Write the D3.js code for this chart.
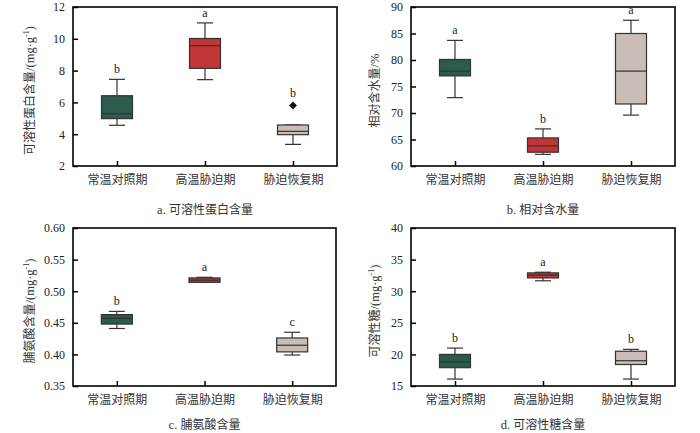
<!DOCTYPE html>
<html><head><meta charset="utf-8">
<script src="https://cdn.jsdelivr.net/npm/d3@7"></script>
<style>body{margin:0;background:#fff}svg{display:block}</style>
</head><body><svg id="c" width="700" height="433"></svg>
<script>
const categories = ["常温对照期", "高温胁迫期", "胁迫恢复期"];
const colors = ["#2d5a4f", "#c23536", "#c9bdb8"];

// [min, q1, median, q3, max] per category
const proteinStats = [[4.56, 4.98, 5.29, 6.42, 7.45], [7.43, 8.14, 9.57, 10.02, 11.0], [3.36, 3.97, 4.18, 4.58, 4.58]];
const proteinOutliers = [[], [], [5.8]];
const proteinLetters = ["b", "a", "b"];
const proteinTicks = [2, 4, 6, 8, 10, 12];

const waterStats = [[72.9, 77.0, 77.9, 80.1, 83.7], [62.2, 62.6, 63.8, 65.3, 67.0], [69.6, 71.7, 77.9, 85.0, 87.5]];
const waterOutliers = [[], [], []];
const waterLetters = ["a", "b", "a"];
const waterTicks = [60, 65, 70, 75, 80, 85, 90];

const prolineStats = [[0.441, 0.448, 0.457, 0.463, 0.468], [0.514, 0.514, 0.5175, 0.521, 0.522], [0.399, 0.404, 0.4145, 0.426, 0.435]];
const prolineOutliers = [[], [], []];
const prolineLetters = ["b", "a", "c"];
const prolineTicks = [0.35, 0.40, 0.45, 0.50, 0.55, 0.60];

const sugarStats = [[16.1, 17.9, 18.8, 20.0, 21.0], [31.65, 32.1, 32.55, 32.9, 33.0], [16.1, 18.4, 19.0, 20.5, 20.8]];
const sugarOutliers = [[], [], []];
const sugarLetters = ["b", "a", "b"];
const sugarTicks = [15, 20, 25, 30, 35, 40];

const panels = [
  {stats: proteinStats, out: proteinOutliers, letters: proteinLetters, ticks: proteinTicks, fmt: d3.format("d"),
   title: "可溶性蛋白含量", unit: "/(mg·g", sup: "-1", tail: ")", capL: "a.", capT: "可溶性蛋白含量",
   x0: 73, x1: 337, y0: 7, y1: 166, tx: 30, cy: 214},
  {stats: waterStats, out: waterOutliers, letters: waterLetters, ticks: waterTicks, fmt: d3.format("d"),
   title: "相对含水量", unit: "/%", sup: "", tail: "", capL: "b.", capT: "相对含水量",
   x0: 411, x1: 675, y0: 7, y1: 166, tx: 375, cy: 214},
  {stats: prolineStats, out: prolineOutliers, letters: prolineLetters, ticks: prolineTicks, fmt: d3.format(".2f"),
   title: "脯氨酸含量", unit: "/(mg·g", sup: "-1", tail: ")", capL: "c.", capT: "脯氨酸含量",
   x0: 73, x1: 336, y0: 228, y1: 386, tx: 30, cy: 429},
  {stats: sugarStats, out: sugarOutliers, letters: sugarLetters, ticks: sugarTicks, fmt: d3.format("d"),
   title: "可溶性糖", unit: "/(mg·g", sup: "-1", tail: ")", capL: "d.", capT: "可溶性糖含量",
   x0: 411, x1: 675, y0: 228, y1: 386, tx: 375, cy: 429}
];

const svg = d3.select("#c");
const serif = "'Liberation Serif','DejaVu Serif',serif";
const cjk = "'Noto Sans CJK SC','Noto Sans',sans-serif";

panels.forEach(p => {
  const g = svg.append("g");
  const x = d3.scalePoint().domain(categories).range([p.x0, p.x1]).padding(0.5);
  const y = d3.scaleLinear().domain([p.ticks[0], p.ticks[p.ticks.length - 1]]).range([p.y1, p.y0]);
  const bw = 31, cw = 16;

  const ya = g.append("g").attr("transform", `translate(${p.x0},0)`)
    .call(d3.axisLeft(y).tickValues(p.ticks).tickFormat(p.fmt).tickSizeInner(-5).tickSizeOuter(0).tickPadding(8));
  ya.select(".domain").remove();
  ya.selectAll("line").attr("stroke", "#000").attr("stroke-width", 1.5);
  ya.selectAll("text").attr("font-family", serif).attr("font-size", 12).attr("fill", "#222");

  const xa = g.append("g").attr("transform", `translate(0,${p.y1})`)
    .call(d3.axisBottom(x).tickSizeInner(-5).tickSizeOuter(0).tickPadding(9));
  xa.select(".domain").remove();
  xa.selectAll("line").attr("stroke", "#000").attr("stroke-width", 1.5);
  xa.selectAll("text").attr("font-family", cjk).attr("font-size", 12).attr("fill", "#333");

  g.append("rect").attr("x", p.x0).attr("y", p.y0).attr("width", p.x1 - p.x0).attr("height", p.y1 - p.y0)
    .attr("fill", "none").attr("stroke", "#000").attr("stroke-width", 1.6);

  p.stats.forEach((s, i) => {
    const cx = x(categories[i]);
    const bg = g.append("g").attr("stroke", "#333").attr("stroke-width", 1.2);
    bg.append("line").attr("x1", cx).attr("x2", cx).attr("y1", y(s[0])).attr("y2", y(s[1]));
    bg.append("line").attr("x1", cx).attr("x2", cx).attr("y1", y(s[3])).attr("y2", y(s[4]));
    bg.append("line").attr("x1", cx - cw / 2).attr("x2", cx + cw / 2).attr("y1", y(s[0])).attr("y2", y(s[0]));
    bg.append("line").attr("x1", cx - cw / 2).attr("x2", cx + cw / 2).attr("y1", y(s[4])).attr("y2", y(s[4]));
    bg.append("rect").attr("x", cx - bw / 2).attr("y", y(s[3])).attr("width", bw).attr("height", Math.max(1, y(s[1]) - y(s[3])))
      .attr("fill", colors[i]);
    bg.append("line").attr("x1", cx - bw / 2).attr("x2", cx + bw / 2).attr("y1", y(s[2])).attr("y2", y(s[2]));
    p.out[i].forEach(v => {
      g.append("path").attr("d", d3.symbol(d3.symbolDiamond2, 40)()).attr("transform", `translate(${cx},${y(v)})`)
        .attr("fill", "#111");
    });
    const top = Math.max(s[4], ...(p.out[i].length ? p.out[i] : [s[4]]));
    g.append("text").attr("x", cx).attr("y", y(top) - (p.out[i].length ? 9 : 6)).attr("text-anchor", "middle")
      .attr("font-family", serif).attr("font-size", 12).attr("fill", "#222").text(p.letters[i]);
  });

  const t = g.append("text").attr("transform", `translate(${p.tx},${(p.y0 + p.y1) / 2 + 4}) rotate(-90)`)
    .attr("text-anchor", "middle").attr("dy", "0.35em").attr("font-size", 12).attr("fill", "#333");
  t.append("tspan").attr("font-family", cjk).text(p.title);
  t.append("tspan").attr("font-family", serif).attr("font-size", 12.5).text(p.unit);
  if (p.sup) {
    t.append("tspan").attr("font-family", serif).attr("font-size", 8).attr("dy", "-0.6em").text(p.sup);
    t.append("tspan").attr("font-family", serif).attr("font-size", 12.5).attr("dy", "0.4em").text(p.tail);
  }

  const c = g.append("text").attr("x", (p.x0 + p.x1) / 2).attr("y", p.cy).attr("text-anchor", "middle")
    .attr("font-size", 12).attr("fill", "#333");
  c.append("tspan").attr("font-family", serif).attr("font-size", 12.5).text(p.capL + " ");
  c.append("tspan").attr("font-family", cjk).text(p.capT);
});
</script></body></html>
